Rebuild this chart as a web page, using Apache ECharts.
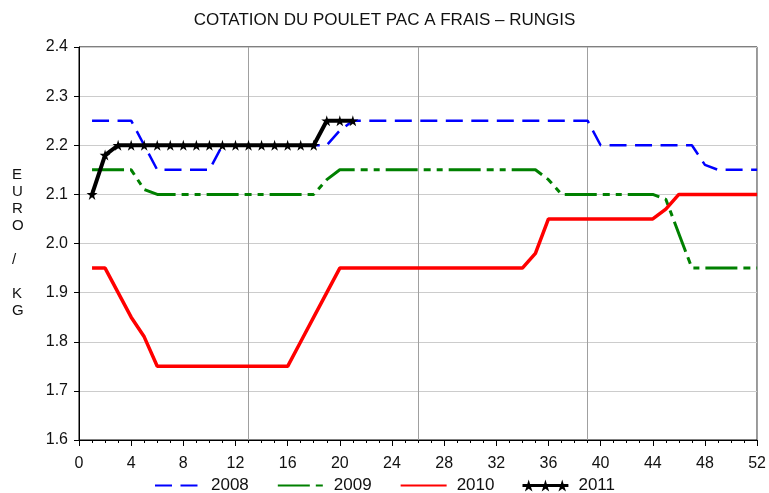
<!DOCTYPE html>
<html>
<head>
<meta charset="utf-8">
<script src="https://cdn.jsdelivr.net/npm/echarts@6/dist/echarts.min.js"></script>
<style>
  html, body { margin: 0; padding: 0; background: #fff; }
  #chart { width: 769px; height: 493px; }
</style>
</head>
<body>
<div id="chart"></div>
<script>
// semaines et cotations (euro / kg)
const weeks = Array.from({ length: 52 }, (_, i) => i + 1);

const y2008 = [
  2.25, 2.25, 2.25, 2.25, 2.20, 2.15, 2.15, 2.15, 2.15, 2.15,
  2.20, 2.20, 2.20, 2.20, 2.20, 2.20, 2.20, 2.20, 2.20, 2.23,
  2.25, 2.25, 2.25, 2.25, 2.25, 2.25, 2.25, 2.25, 2.25, 2.25,
  2.25, 2.25, 2.25, 2.25, 2.25, 2.25, 2.25, 2.25, 2.25, 2.20,
  2.20, 2.20, 2.20, 2.20, 2.20, 2.20, 2.20, 2.16, 2.15, 2.15,
  2.15, 2.15
];
const y2009 = [
  2.15, 2.15, 2.15, 2.15, 2.11, 2.10, 2.10, 2.10, 2.10, 2.10,
  2.10, 2.10, 2.10, 2.10, 2.10, 2.10, 2.10, 2.10, 2.13, 2.15,
  2.15, 2.15, 2.15, 2.15, 2.15, 2.15, 2.15, 2.15, 2.15, 2.15,
  2.15, 2.15, 2.15, 2.15, 2.15, 2.13, 2.10, 2.10, 2.10, 2.10,
  2.10, 2.10, 2.10, 2.10, 2.09, 2.02, 1.95, 1.95, 1.95, 1.95,
  1.95, 1.95
];
const y2010 = [
  1.95, 1.95, 1.90, 1.85, 1.81, 1.75, 1.75, 1.75, 1.75, 1.75,
  1.75, 1.75, 1.75, 1.75, 1.75, 1.75, 1.80, 1.85, 1.90, 1.95,
  1.95, 1.95, 1.95, 1.95, 1.95, 1.95, 1.95, 1.95, 1.95, 1.95,
  1.95, 1.95, 1.95, 1.95, 1.98, 2.05, 2.05, 2.05, 2.05, 2.05,
  2.05, 2.05, 2.05, 2.05, 2.07, 2.10, 2.10, 2.10, 2.10, 2.10,
  2.10, 2.10
];
const y2011 = [
  2.10, 2.18, 2.20, 2.20, 2.20, 2.20, 2.20, 2.20, 2.20, 2.20,
  2.20, 2.20, 2.20, 2.20, 2.20, 2.20, 2.20, 2.20, 2.25, 2.25,
  2.25
];

const FONT = "'Liberation Sans', Arial, sans-serif";
const STAR_PTS = [[50,0],[61,35],[98,35],[68,57],[79,91],[50,70],[21,91],[32,57],[2,35],[39,35]];
const STAR = 'path://' + STAR_PTS.map((p, i) => (i ? 'L' : 'M') + p[0] + ',' + p[1]).join(' ') + ' Z';

// icône de légende 2011 : trait + trois étoiles
function starAt(cx) {
  return STAR_PTS.map((p, i) =>
    (i ? 'L' : 'M') + (cx + (p[0] - 50) * 1.3).toFixed(1) + ',' + (1 + p[1] * 1.3).toFixed(1)
  ).join(' ') + ' Z';
}
const ICON_2011 = 'path://M0,44 L460,44 L460,76 L0,76 Z ' + [62, 230, 398].map(starAt).join(' ');

const pairs = vals => vals.map((v, i) => [weeks[i], v]);

const chart = echarts.init(document.getElementById('chart'));

chart.setOption({
  animation: false,
  title: {
    text: 'COTATION DU POULET PAC A FRAIS \u2013 RUNGIS',
    left: 'center',
    top: 7,
    textStyle: { fontFamily: FONT, fontSize: 17, fontWeight: 'normal', color: '#111' }
  },
  grid: {
    left: 79, right: 6, top: 47, bottom: 53,
    show: true, borderColor: '#000', borderWidth: 1
  },
  legend: {
    bottom: -6,
    left: 'center',
    itemWidth: 46,
    itemHeight: 12,
    itemGap: 28,
    textStyle: { fontFamily: FONT, fontSize: 17, color: '#111', padding: [0, 0, 0, 5] },
    data: [
      { name: '2008', itemStyle: { opacity: 0 } },
      { name: '2009', itemStyle: { opacity: 0 } },
      { name: '2010', itemStyle: { opacity: 0 } },
      { name: '2011', icon: ICON_2011, itemStyle: { color: '#000' } }
    ]
  },
  graphic: [{
    type: 'text',
    left: 12,
    top: 166,
    style: {
      text: 'E\nU\nR\nO\n\n/\n\nK\nG',
      font: '15px ' + FONT,
      fill: '#111',
      lineHeight: 17,
      align: 'center'
    }
  }],
  xAxis: [{
    type: 'value',
    min: 0, max: 52, interval: 4,
    axisLine: { lineStyle: { color: '#000' } },
    axisTick: { length: 6, lineStyle: { color: '#000' } },
    minorTick: { show: true, splitNumber: 4, length: 3, lineStyle: { color: '#000' } },
    axisLabel: { fontFamily: FONT, fontSize: 16, color: '#111', margin: 16 },
    splitLine: { show: false }
  }, {
    type: 'value',
    min: 0, max: 52, interval: 13,
    position: 'bottom',
    axisLine: { show: false },
    axisTick: { show: false },
    axisLabel: { show: false },
    splitLine: { show: true, lineStyle: { color: '#a0a0a0', width: 1 } }
  }],
  yAxis: {
    type: 'value',
    min: 1.6, max: 2.4, interval: 0.1,
    axisLine: { show: true, lineStyle: { color: '#000' } },
    axisTick: { show: true, length: 5, lineStyle: { color: '#000' } },
    axisLabel: {
      fontFamily: FONT, fontSize: 16, color: '#111', margin: 11,
      formatter: v => v.toFixed(1)
    },
    splitLine: { show: true, lineStyle: { color: '#cccccc', width: 1 } }
  },
  series: [{
    name: '2008',
    type: 'line',
    data: pairs(y2008),
    showSymbol: false,
    symbol: 'none',
    color: '#0000ff',
    lineStyle: { color: '#0000ff', width: 2.5, type: [17, 8.5] }
  }, {
    name: '2009',
    type: 'line',
    data: pairs(y2009),
    showSymbol: false,
    symbol: 'none',
    color: '#008000',
    lineStyle: { color: '#008000', width: 3, type: [32, 6, 7, 6, 6, 6] }
  }, {
    name: '2010',
    type: 'line',
    data: pairs(y2010),
    showSymbol: false,
    symbol: 'none',
    color: '#ff0000',
    lineStyle: { color: '#ff0000', width: 3.5 }
  }, {
    name: '2011',
    type: 'line',
    data: pairs(y2011),
    symbol: STAR,
    symbolSize: 11,
    color: '#000',
    itemStyle: { color: '#000' },
    lineStyle: { color: '#000', width: 4 }
  }]
});

window.addEventListener('resize', () => chart.resize());
</script>
</body>
</html>
